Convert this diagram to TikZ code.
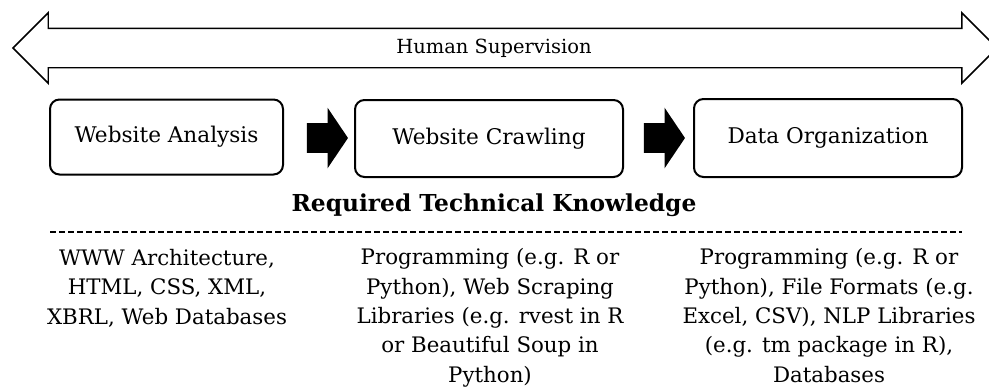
\documentclass[tikz,border=0pt]{standalone}
\usepackage{fontspec}
\setmainfont{DejaVu Serif}
\usepackage{tikz}
\usetikzlibrary{shapes,arrows,positioning}

\tikzset{
    stagebox/.style={
        draw,
        line width=1.5pt,
        rounded corners=0.25cm,
        font=\fontsize{16.2}{19}\selectfont
    },
    blockarrow/.style={
        single arrow,
        fill=black,
        inner xsep=0pt,
        inner ysep=10.875pt,
        minimum height=30.75pt,
        single arrow head extend=11.625pt,
        single arrow tip angle=112
    },
    skilltext/.style={
        align=center,
        anchor=base,
        font=\fontsize{16}{22}\selectfont
    }
}

\begin{document}
\begin{tikzpicture}[x=0.75pt,y=-0.75pt]
                \useasboundingbox (0,0) rectangle (989,389);

                % supervision arrow across the top
                \node[
                    double arrow,
                    draw,
                    line width=1.1pt,
                    inner xsep=0pt,
                    inner ysep=14.25pt,
                    minimum height=738pt,
                    double arrow head extend=11.625pt
                    ] (supervision) at (505,48) {};
                \node[
                    font=\fontsize{14.6}{17}\selectfont
                    ] (suplabel) at (494,48) {Human Supervision};

                % the three stages
                \node[
                    stagebox,
                    minimum width=174.75pt,
                    minimum height=56.25pt
                    ] (analysis) at (166.5,137) {Website Analysis};

                \node[
                    stagebox,
                    minimum width=201pt,
                    minimum height=57.75pt
                    ] (crawling) at (489,138.5) {Website Crawling};

                \node[
                    stagebox,
                    minimum width=201pt,
                    minimum height=58.5pt
                    ] (organization) at (828,138) {Data Organization};

                \node[blockarrow] (arrowA) at (322.5,138) {};
                \node[blockarrow] (arrowB) at (659.5,138) {};

                % knowledge part
                \node[
                    font=\bfseries\fontsize{17.5}{20}\selectfont
                    ] (knowhead) at (494,205) {Required Technical Knowledge};

                \coordinate (dashleft) at (50,232);
                \coordinate (dashright) at (962,232);
                \draw[
                    line width=1.5pt,
                    dash pattern=on 4.5pt off 2.25pt
                    ] (dashleft) -- (dashright);

                % base of each block is its last line
                \node[skilltext] (skillA) at (167,324)
                    {WWW Architecture,\\HTML, CSS, XML,\\XBRL, Web Databases};
                \node[skilltext] (skillB) at (490,382)
                    {Programming (e.g. R or\\Python), Web Scraping\\Libraries (e.g. rvest in R\\or Beautiful Soup in\\Python)};
                \node[skilltext] (skillC) at (829,382)
                    {Programming (e.g. R or\\Python), File Formats (e.g.\\Excel, CSV), NLP Libraries\\(e.g. tm package in R),\\Databases};

            \end{tikzpicture}
\end{document}
